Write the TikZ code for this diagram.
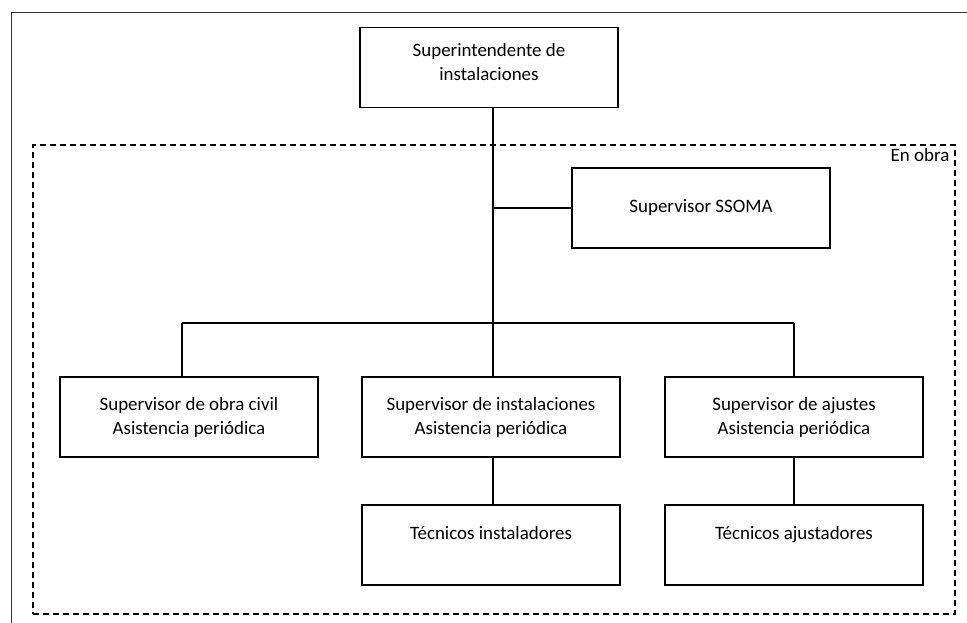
\documentclass[tikz,border=0pt]{standalone}
\usepackage{fontspec}
\setmainfont{Carlito}
\usetikzlibrary{positioning, calc}

\begin{document}
\begin{tikzpicture}[
  x=0.75pt, y=-0.75pt,
  font=\fontsize{14.2}{18}\selectfont,
  box/.style={draw, line width=1pt, minimum width=193.5pt, minimum height=60pt, inner sep=0pt, align=center},
  heavybox/.style={box, line width=1.6pt},
  lowbox/.style={box, text depth=18pt},
  region/.style={draw, dashed, dash pattern=on 4.5pt off 3pt, line width=0.9pt, inner sep=0pt, minimum width=691.5pt, minimum height=351.75pt},
  conn/.style={line width=0.9pt},
  frame/.style={line width=0.6pt, black!80}
]
  \useasboundingbox (0,0) rectangle (967,623);

  % page frame (cut)
  \draw[frame] (967,12) -- (11,12) -- (11,623);

  % site area
  \node[region] (obra) at (494,379.5) {};
  \node[anchor=north east, inner sep=0pt] (enobra) at ($(obra.north east)+(-6,4)$) {En obra};

  % top
  \node[box, text depth=9pt] (sup) at (489,67.5) {Superintendente de\\instalaciones};
  \node[heavybox] (ssoma) at (701,208) {Supervisor SSOMA};

  % second level
  \node[box] (civil) at (189,417) {Supervisor de obra civil\\Asistencia peri\'odica};
  \node[box] (inst) at (491,417) {Supervisor de instalaciones\\Asistencia peri\'odica};
  \node[box] (ajus) at (794,417) {Supervisor de ajustes\\Asistencia peri\'odica};

  % technicians
  \node[lowbox] (tinst) at (491,545) {T\'ecnicos instaladores};
  \node[lowbox] (tajus) at (794,545) {T\'ecnicos ajustadores};

  % connectors
  \coordinate (bus) at (493,323);
  \coordinate (busL) at (182,323);
  \coordinate (busR) at (794,323);
  \draw[conn] (sup.south -| bus) -- (bus);
  \draw[conn] (ssoma.west -| bus) -- (ssoma.west);
  \draw[conn] (busL) -- (busR);
  \draw[conn] (busL) -- (busL |- civil.north);
  \draw[conn] (bus) -- (bus |- inst.north);
  \draw[conn] (busR) -- (ajus.north);
  \draw[conn] (inst.south -| bus) -- (bus |- tinst.north);
  \draw[conn] (ajus.south) -- (tajus.north);
\end{tikzpicture}
\end{document}
